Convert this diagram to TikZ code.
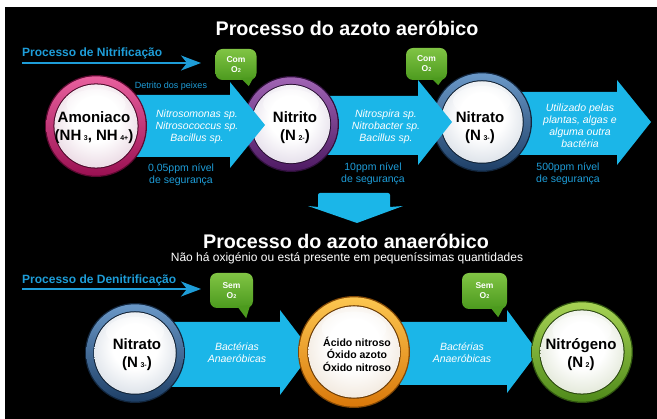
\documentclass[tikz,border=0pt]{standalone}
\usepackage{fontspec}
\setmainfont{Liberation Sans}
\usetikzlibrary{calc,arrows.meta}
\definecolor{abl}{HTML}{1BB6E8}
\definecolor{tbl}{HTML}{1E9DD8}
\definecolor{gdark}{HTML}{4C9A1E}
\definecolor{glight}{HTML}{80C444}
\definecolor{pinkD}{HTML}{9A1052}
\definecolor{pinkL}{HTML}{E8609E}
\definecolor{pinkI}{HTML}{D6B4C8}
\definecolor{purD}{HTML}{4E1A63}
\definecolor{purL}{HTML}{A064B4}
\definecolor{purI}{HTML}{CBBFD6}
\definecolor{bluD}{HTML}{1E3F66}
\definecolor{bluL}{HTML}{6A98C8}
\definecolor{bluI}{HTML}{BAC5D3}
\definecolor{oraD}{HTML}{D9780A}
\definecolor{oraL}{HTML}{FCC650}
\definecolor{oraI}{HTML}{E4D2BC}
\definecolor{grnD}{HTML}{4F8A1A}
\definecolor{grnL}{HTML}{A6D254}
\definecolor{grnI}{HTML}{C6D1B2}
\colorlet{dtint}{pinkI}
\pgfdeclareradialshading[dtint]{discsh}{\pgfpoint{0bp}{6bp}}{color(0bp)=(white); color(14bp)=(white); color(30bp)=(dtint!55!white); color(42bp)=(dtint); color(50bp)=(dtint)}
\newcommand\gball[6]{%
  \pgfmathsetmacro\rA{#3}%
  \pgfmathsetmacro\rB{#3-1.3}%
  \pgfmathsetmacro\rC{#3*0.835}%
  \pgfmathsetmacro\rD{#3*0.815}%
  \pgfmathsetmacro\gy{#2-#3*0.42}%
  \pgfmathsetmacro\gx{#3*0.58}%
  \pgfmathsetmacro\gr{#3*0.3}%
  \colorlet{dtint}{#6}%
  \fill[#4!60!black] (#1,#2) circle (\rA pt);
  \shade[top color=#5, bottom color=#4] (#1,#2) circle (\rB pt);
  \fill[#4!50!black] (#1,#2) circle (\rC pt);
  \shade[shading=discsh] (#1,#2) circle (\rD pt);
  \fill[white,opacity=0.45] (#1,\gy) ellipse (\gx pt and \gr pt);
}
% body left, head base x, body top, body bottom, head top, head bottom, tip x, tip y
\newcommand\barrow[8]{%
  \fill[abl] (#1,#3) -- (#2,#3) -- (#2,#5) -- (#7,#8) -- (#2,#6) -- (#2,#4) -- (#1,#4) -- cycle;
}
\newcommand\chsub[1]{\,{\fontsize{7}{7}\selectfont\raisebox{0.5pt}{#1}}}
\newcommand\bsub[1]{{\fontsize{5.5}{5.5}\selectfont #1}}
\tikzset{
  title/.style={text=white, font=\bfseries\fontsize{19.7}{22}\selectfont, inner sep=0},
  subt/.style={text=white, font=\fontsize{12}{14}\selectfont, inner sep=0},
  proc/.style={text=tbl, font=\bfseries\fontsize{12}{14}\selectfont, inner sep=0, anchor=west},
  procline/.style={tbl, line width=1.8pt, -{Stealth[length=20pt, width=15pt, inset=6pt]}},
  clab/.style={text=black, font=\bfseries\fontsize{15}{18}\selectfont, align=center, inner sep=0},
  olab/.style={text=black, font=\bfseries\fontsize{10.5}{12.5}\selectfont, align=center, inner sep=0},
  itx/.style={text=white, font=\itshape\fontsize{10.5}{12}\selectfont, align=center, inner sep=0},
  ctx/.style={text=tbl, font=\fontsize{10.5}{12.5}\selectfont, align=center, inner sep=0},
  bubble/.style={rectangle, rounded corners=7pt, top color=glight, bottom color=gdark, text=white,
    font=\bfseries\fontsize{8.5}{10}\selectfont, align=center, inner sep=0},
}
\begin{document}
\begin{tikzpicture}[x=1pt, y=-1pt]
\useasboundingbox (0,0) rectangle (657,419);
\fill[white] (0,0) rectangle (657,419);
\fill[black] (5,7) rectangle (657,419);

% titles
\node[title] (t1) at (347,28) {Processo do azoto aeróbico};
\node[title] (t2) at (346,241) {Processo do azoto anaeróbico};
\node[subt] (st) at (347,258) {Não há oxigénio ou está presente em pequeníssimas quantidades};

% process labels
\node[proc] (pn) at (22,53) {Processo de Nitrificação};
\coordinate (pnA) at (22,63);
\coordinate (pnB) at (201,63);
\draw[procline] (pnA) -- (pnB);
\node[proc] (pd) at (22,280) {Processo de Denitrificação};
\coordinate (pdA) at (22,289);
\coordinate (pdB) at (201,289);
\draw[procline] (pdA) -- (pdB);

% top row (drawn right to left)
\barrow{500}{617}{92}{155}{80}{165}{651}{122}
\gball{482}{122}{50}{bluD}{bluL}{bluI}
\barrow{300}{418}{96}{155}{80}{165}{452}{122}
\gball{291}{124}{48}{purD}{purL}{purI}
\barrow{110}{230}{95}{157}{82}{168}{265}{125}
\gball{96}{126}{51}{pinkD}{pinkL}{pinkI}

% bottom row
\barrow{400}{507}{322}{385}{310}{393}{538}{352}
\gball{582}{352}{51}{grnD}{grnL}{grnI}
\barrow{150}{280}{322}{387}{310}{395}{312}{352}
\gball{354}{352}{56}{oraD}{oraL}{oraI}
\gball{135}{353}{50}{bluD}{bluL}{bluI}

% down arrow
\fill[abl] (318,207) -- (318,195) [rounded corners=2pt] -- (318,193) -- (390,193) [sharp corners] -- (390,207)
  -- (403,206) -- (357,223) -- (308,206) -- cycle;

% bubbles
\node[bubble, minimum width=41pt, minimum height=31pt] (b1) at (236,64.5) {Com\\O\bsub{2}};
\fill[gdark] ($(b1.south east)+(-16,-2)$) -- ($(b1.south east)+(-8,6)$) -- ($(b1.south east)+(-3,-3)$) -- cycle;
\node[bubble, minimum width=41pt, minimum height=32pt] (b2) at (426.5,64) {Com\\O\bsub{2}};
\fill[gdark] ($(b2.south east)+(-16,-2)$) -- ($(b2.south east)+(-9,5)$) -- ($(b2.south east)+(-3,-3)$) -- cycle;
\node[bubble, minimum width=43pt, minimum height=35pt] (b3) at (231.5,290.5) {Sem\\O\bsub{2}};
\fill[gdark] ($(b3.south east)+(-16,-2)$) -- ($(b3.south east)+(-7,10)$) -- ($(b3.south east)+(-3,-3)$) -- cycle;
\node[bubble, minimum width=45pt, minimum height=36pt] (b4) at (484.5,291) {Sem\\O\bsub{2}};
\fill[gdark] ($(b4.south east)+(-17,-2)$) -- ($(b4.south east)+(-9,8)$) -- ($(b4.south east)+(-3,-3)$) -- cycle;

% circle labels
\node[clab] (amon) at (94,128) {Amoniaco\\(NH\chsub{3}, NH\chsub{4+})};
\node[clab] (nitri) at (295,128) {Nitrito\\(N\chsub{2-})};
\node[clab] (nitra) at (480,128) {Nitrato\\(N\chsub{3-})};
\node[clab] (nitrb) at (137,355) {Nitrato\\(N\chsub{3-})};
\node[olab] (acid) at (357,354) {Ácido nitroso\\Óxido azoto\\Óxido nitroso};
\node[clab] (nitro) at (581,355) {Nitrógeno\\(N\chsub{2})};

% arrow texts
\node[text=tbl, font=\fontsize{9}{10}\selectfont, inner sep=0] (det) at (171,86) {Detrito dos peixes};
\node[itx] (a1) at (197,127) {Nitrosomonas sp.\\Nitrosococcus sp.\\Bacillus sp.};
\node[itx] (a2) at (386,127) {Nitrospira sp.\\Nitrobacter sp.\\Bacillus sp.};
\node[itx] (a3) at (580,126) {Utilizado pelas\\plantas, algas e\\alguma outra\\bactéria};
\node[ctx] (s1) at (181,175) {0,05ppm nível\\de segurança};
\node[ctx] (s2) at (373,174) {10ppm nível\\de segurança};
\node[ctx] (s3) at (568,174) {500ppm nível\\de segurança};
\node[itx] (a4) at (237,353) {Bactérias\\Anaeróbicas};
\node[itx] (a5) at (462,353) {Bactérias\\Anaeróbicas};
\end{tikzpicture}
\end{document}
